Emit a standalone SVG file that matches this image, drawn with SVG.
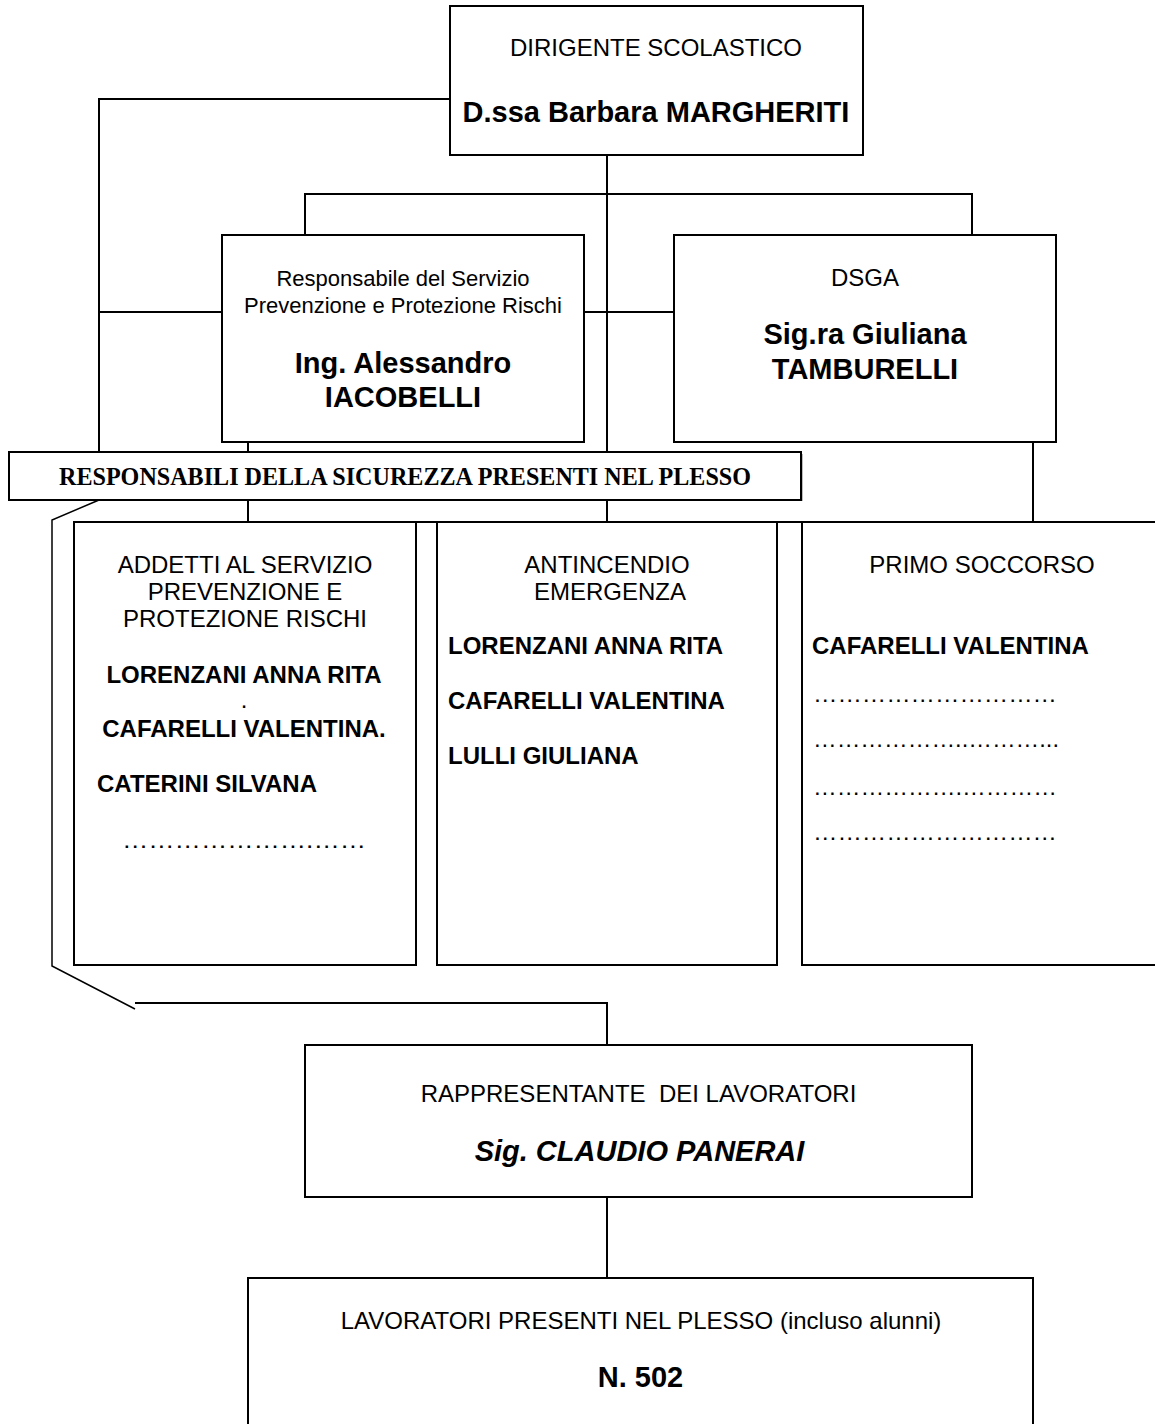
<svg xmlns="http://www.w3.org/2000/svg" width="1155" height="1424" viewBox="0 0 1155 1424">
<style>
.box{fill:#fff;stroke:#000;stroke-width:2}
.ln{fill:none;stroke:#000;stroke-width:2}
.thin{fill:none;stroke:#000;stroke-width:1.5}
text{font-family:"Liberation Sans",Arial,sans-serif;fill:#000}
.r{font-size:24px}
.s{font-size:22px}
.b{font-size:29px;font-weight:bold}
.n{font-size:24px;font-weight:bold}
.c{text-anchor:middle}
.ban{font-family:"Liberation Serif","Times New Roman",serif;font-size:26px;font-weight:bold}
.bi{font-size:29px;font-weight:bold;font-style:italic}
</style>
<rect width="1155" height="1424" fill="#fff"/>
<g id="connectors">
<polyline class="ln" points="450,99 99,99 99,453"/>
<line class="ln" x1="99" y1="312" x2="222" y2="312"/>
<line class="ln" x1="584" y1="312" x2="674" y2="312"/>
<line class="ln" x1="607" y1="155" x2="607" y2="522"/>
<polyline class="ln" points="305,235 305,194 972,194 972,235"/>
<line class="ln" x1="248" y1="442" x2="248" y2="522"/>
<line class="ln" x1="1033" y1="442" x2="1033" y2="522"/>
<line class="ln" x1="416" y1="522" x2="437" y2="522"/>
<line class="ln" x1="777" y1="522" x2="802" y2="522"/>
<polyline class="thin" points="99,500 52,520 52,966 135,1009"/>
<polyline class="ln" points="135,1003 607,1003 607,1045"/>
<line class="ln" x1="607" y1="1197" x2="607" y2="1278"/>
</g>
<g id="dirigente">
<rect class="box" x="450" y="6" width="413" height="149"/>
<text class="r c" x="656" y="56">DIRIGENTE SCOLASTICO</text>
<text class="b c" x="656" y="122">D.ssa Barbara MARGHERITI</text>
</g>
<g id="rspp">
<rect class="box" x="222" y="235" width="362" height="207"/>
<text class="s c" x="403" y="286">Responsabile del Servizio</text>
<text class="s c" x="403" y="313">Prevenzione e Protezione Rischi</text>
<text class="b c" x="403" y="373">Ing. Alessandro</text>
<text class="b c" x="403" y="407">IACOBELLI</text>
</g>
<g id="dsga">
<rect class="box" x="674" y="235" width="382" height="207"/>
<text class="r c" x="865" y="286">DSGA</text>
<text class="b c" x="865" y="344">Sig.ra Giuliana</text>
<text class="b c" x="865" y="379">TAMBURELLI</text>
</g>
<g id="banner">
<rect x="11" y="454" width="792" height="47" fill="#bbb"/>
<rect class="box" x="9" y="452" width="792" height="48"/>
<text class="ban c" x="405" y="485" textLength="692" lengthAdjust="spacingAndGlyphs">RESPONSABILI DELLA SICUREZZA PRESENTI NEL PLESSO</text>
</g>
<g id="addetti">
<rect class="box" x="74" y="522" width="342" height="443"/>
<text class="r c" x="245" y="573">ADDETTI AL SERVIZIO</text>
<text class="r c" x="245" y="600">PREVENZIONE E</text>
<text class="r c" x="245" y="627">PROTEZIONE RISCHI</text>
<text class="n c" x="244" y="683">LORENZANI ANNA RITA</text>
<text class="r c" x="244" y="708">.</text>
<text class="n c" x="244" y="737">CAFARELLI VALENTINA.</text>
<text class="n" x="97" y="792">CATERINI SILVANA</text>
<text class="r" x="122" y="848" textLength="244" lengthAdjust="spacingAndGlyphs">&#8230;&#8230;&#8230;&#8230;&#8230;&#8230;&#8230;.&#8230;&#8230;</text>
</g>
<g id="antincendio">
<rect class="box" x="437" y="522" width="340" height="443"/>
<text class="r c" x="607" y="573">ANTINCENDIO</text>
<text class="r c" x="610" y="600">EMERGENZA</text>
<text class="n" x="448" y="654">LORENZANI ANNA RITA</text>
<text class="n" x="448" y="709">CAFARELLI VALENTINA</text>
<text class="n" x="448" y="764">LULLI GIULIANA</text>
</g>
<g id="primo-soccorso">
<rect class="box" x="802" y="522" width="365" height="443"/>
<text class="r c" x="982" y="573">PRIMO SOCCORSO</text>
<text class="n" x="812" y="654">CAFARELLI VALENTINA</text>
<text class="r" x="813" y="702" textLength="244" lengthAdjust="spacingAndGlyphs">&#8230;&#8230;&#8230;&#8230;&#8230;&#8230;&#8230;&#8230;&#8230;&#8230;</text>
<text class="r" x="813" y="747" textLength="246" lengthAdjust="spacingAndGlyphs">&#8230;&#8230;&#8230;&#8230;&#8230;&#8230;..&#8230;&#8230;&#8230;...</text>
<text class="r" x="813" y="795" textLength="244" lengthAdjust="spacingAndGlyphs">&#8230;&#8230;&#8230;&#8230;&#8230;&#8230;.&#8230;&#8230;&#8230;&#8230;</text>
<text class="r" x="813" y="840" textLength="244" lengthAdjust="spacingAndGlyphs">&#8230;&#8230;&#8230;&#8230;&#8230;&#8230;&#8230;&#8230;&#8230;&#8230;</text>
</g>
<g id="rappresentante">
<rect class="box" x="305" y="1045" width="667" height="152"/>
<text class="r c" x="638.5" y="1102" xml:space="preserve">RAPPRESENTANTE  DEI LAVORATORI</text>
<text class="bi c" x="639.5" y="1161">Sig. CLAUDIO PANERAI</text>
</g>
<g id="lavoratori">
<rect class="box" x="248" y="1278" width="785" height="160"/>
<text class="r c" x="641" y="1329">LAVORATORI PRESENTI NEL PLESSO (incluso alunni)</text>
<text class="b c" x="640.5" y="1387">N. 502</text>
</g>
</svg>
